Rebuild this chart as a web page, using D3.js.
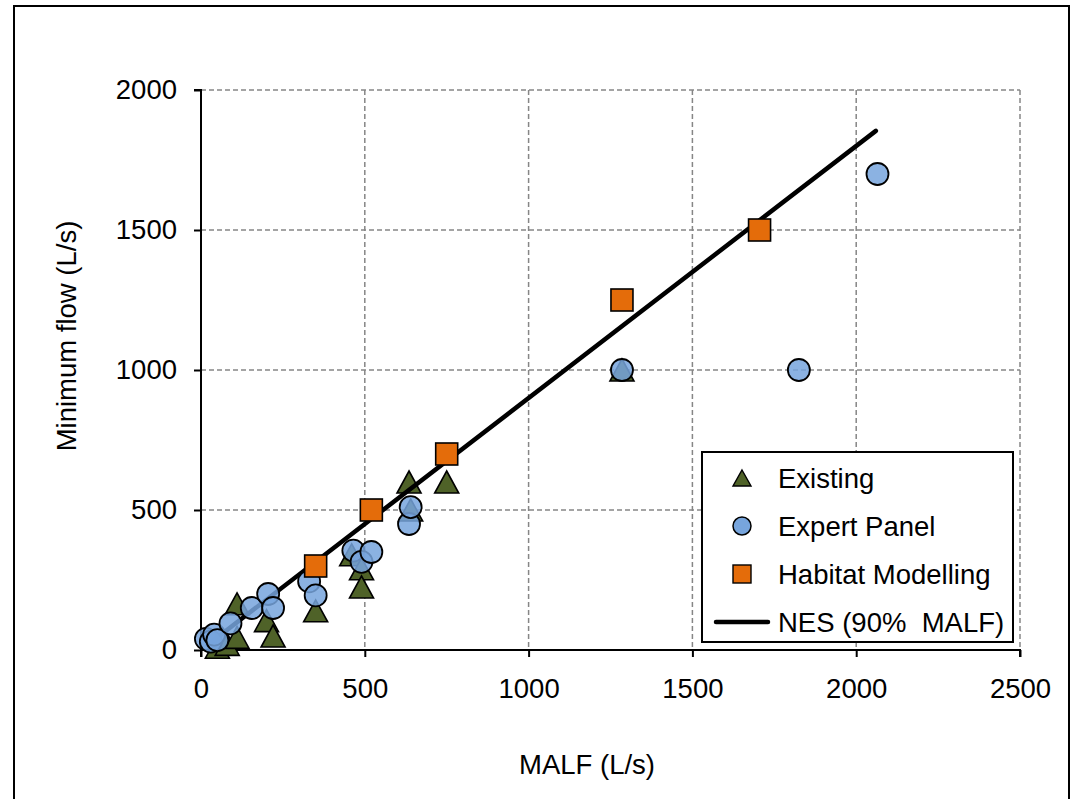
<!DOCTYPE html>
<html>
<head>
<meta charset="utf-8">
<script src="https://cdn.jsdelivr.net/npm/d3@7"></script>
<style>
  html, body { margin: 0; padding: 0; background: #fff; }
  svg { display: block; font-family: "Liberation Sans", Arial, sans-serif; }
</style>
</head>
<body>
<svg id="chart" width="1074" height="799"></svg>
<script>
// ---- Data (MALF, Minimum flow) in L/s ----
const existingMALF = [50, 80, 110, 110, 200, 220, 350, 460, 490, 490, 635, 640, 750, 1285];
const existingMin  = [10, 20, 45, 165, 105, 50, 140, 340, 290, 225, 600, 500, 600, 1000];

const expertMALF = [15, 30, 40, 50, 90, 155, 205, 220, 330, 350, 465, 490, 520, 635, 640, 1285, 1825, 2065];
const expertMin  = [40, 30, 55, 35, 95, 150, 200, 150, 245, 195, 355, 315, 350, 450, 510, 1000, 1000, 1700];

const habitatMALF = [350, 520, 750, 1285, 1705];
const habitatMin  = [300, 500, 700, 1250, 1500];

const nesMALF = [20, 2060];
const nesFraction = 0.9;

const xTicks = [0, 500, 1000, 1500, 2000, 2500];
const yTicks = [0, 500, 1000, 1500, 2000];

const legendLabels = ["Existing", "Expert Panel", "Habitat Modelling", "NES (90%  MALF)"];

// ---- Layout ----
const svg = d3.select("#chart");
const pL = 201, pR = 1020, pT = 90, pB = 650;
const FS = 27.5;
const x = d3.scaleLinear().domain([0, 2500]).range([pL, pR]);
const y = d3.scaleLinear().domain([0, 2000]).range([pB, pT]);

const colTri = "#4f6228", colCirc = "#77a5dd", colSq = "#e46c0a";

// outer frame
svg.append("rect").attr("x", 14).attr("y", 6).attr("width", 1055).attr("height", 800)
  .attr("fill", "none").attr("stroke", "#000").attr("stroke-width", 2);

// grid
const grid = svg.append("g").attr("stroke", "#868686").attr("stroke-width", 1.5).attr("stroke-dasharray", "5,3");
grid.selectAll("line.v").data(xTicks.filter(d => d > 0)).enter().append("line")
  .attr("x1", d => x(d)).attr("x2", d => x(d)).attr("y1", pT).attr("y2", pB);
grid.selectAll("line.h").data(yTicks.filter(d => d > 0)).enter().append("line")
  .attr("x1", pL).attr("x2", pR).attr("y1", d => y(d)).attr("y2", d => y(d));

// axes
const xAxis = d3.axisBottom(x).tickValues(xTicks).tickSize(7).tickPadding(21).tickFormat(d3.format("d"));
const yAxis = d3.axisLeft(y).tickValues(yTicks).tickSize(7).tickPadding(17).tickFormat(d3.format("d"));
const gx = svg.append("g").attr("transform", `translate(0,${pB})`).call(xAxis);
const gy = svg.append("g").attr("transform", `translate(${pL},0)`).call(yAxis);
[gx, gy].forEach(g => {
  g.select(".domain").attr("stroke", "#000").attr("stroke-width", 2);
  g.selectAll(".tick line").attr("stroke", "#000").attr("stroke-width", 2);
  g.selectAll(".tick text").attr("fill", "#000").attr("font-size", FS)
    .attr("font-family", "'Liberation Sans', Arial, sans-serif");
});
gy.select(".domain").attr("d", `M-7,${pT}H0V${pB}`);
gx.select(".domain").attr("d", `M${pL},7V0H${pR}V7`);

// axis titles
svg.append("text").attr("x", 587).attr("y", 774).attr("text-anchor", "middle")
  .attr("font-size", FS).text("MALF (L/s)");
svg.append("text").attr("transform", "translate(76,336) rotate(-90)").attr("text-anchor", "middle")
  .attr("font-size", FS).text("Minimum flow (L/s)");

// symbols
const triPath = (w, h) => `M0,${-h/2}L${w/2},${h/2}L${-w/2},${h/2}Z`;

// Existing triangles
svg.append("g").selectAll("path").data(d3.range(existingMALF.length)).enter().append("path")
  .attr("d", triPath(24, 22))
  .attr("transform", i => `translate(${x(existingMALF[i])},${y(existingMin[i])})`)
  .attr("fill", colTri).attr("stroke", "#000").attr("stroke-width", 1.6);

// NES line
svg.append("line")
  .attr("x1", x(nesMALF[0])).attr("y1", y(nesMALF[0] * nesFraction))
  .attr("x2", x(nesMALF[1])).attr("y2", y(nesMALF[1] * nesFraction))
  .attr("stroke", "#000").attr("stroke-width", 4.5).attr("stroke-linecap", "round");

// Expert Panel circles
svg.append("g").selectAll("circle").data(d3.range(expertMALF.length)).enter().append("circle")
  .attr("cx", i => x(expertMALF[i])).attr("cy", i => y(expertMin[i])).attr("r", 11)
  .attr("fill", colCirc).attr("fill-opacity", 0.85).attr("stroke", "#000").attr("stroke-width", 1.8);

// Habitat squares
svg.append("g").selectAll("rect").data(d3.range(habitatMALF.length)).enter().append("rect")
  .attr("x", i => x(habitatMALF[i]) - 11).attr("y", i => y(habitatMin[i]) - 11)
  .attr("width", 22).attr("height", 22)
  .attr("fill", colSq).attr("stroke", "#000").attr("stroke-width", 1.6);

// legend
const lg = svg.append("g");
lg.append("rect").attr("x", 702).attr("y", 452).attr("width", 311).attr("height", 190)
  .attr("fill", "#fff").attr("stroke", "#000").attr("stroke-width", 2);
const ly = [478, 526, 574, 622];
const mx = 742;
lg.append("path").attr("d", triPath(18, 16)).attr("transform", `translate(${mx},${ly[0]})`)
  .attr("fill", colTri).attr("stroke", "#000").attr("stroke-width", 1.4);
lg.append("circle").attr("cx", mx).attr("cy", ly[1]).attr("r", 9)
  .attr("fill", colCirc).attr("stroke", "#000").attr("stroke-width", 1.5);
lg.append("rect").attr("x", mx - 9).attr("y", ly[2] - 9).attr("width", 18).attr("height", 18)
  .attr("fill", colSq).attr("stroke", "#000").attr("stroke-width", 1.4);
lg.append("line").attr("x1", 716).attr("x2", 768).attr("y1", ly[3]).attr("y2", ly[3])
  .attr("stroke", "#000").attr("stroke-width", 4.5).attr("stroke-linecap", "round");
lg.selectAll("text").data(legendLabels).enter().append("text")
  .attr("x", 778).attr("y", (d, i) => ly[i]).attr("dy", "0.35em")
  .attr("font-size", FS).attr("fill", "#000").style("white-space", "pre").text(d => d);
</script>
</body>
</html>
